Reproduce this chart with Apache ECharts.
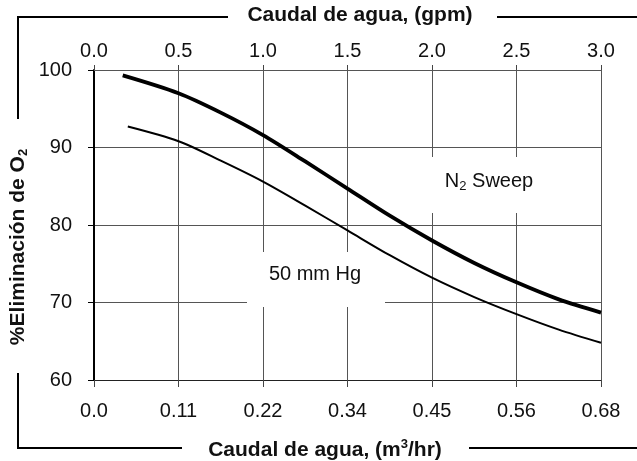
<!DOCTYPE html>
<html>
<head>
<meta charset="utf-8">
<script src="https://cdn.jsdelivr.net/npm/echarts@6/dist/echarts.min.js"></script>
<style>
html, body { margin: 0; padding: 0; background: #fff; }
#main { width: 637px; height: 461px; }
</style>
</head>
<body>
<div id="main"></div>
<script>
// tick labels of the two flow axes (same positions, different units)
var gpmTicks = ['0.0', '0.5', '1.0', '1.5', '2.0', '2.5', '3.0'];
var m3Ticks = ['0.0', '0.11', '0.22', '0.34', '0.45', '0.56', '0.68'];

// N2 sweep curve (flow in gpm, % O2 removal)
var sweepGpm = [0.17, 0.5, 0.75, 1.0, 1.25, 1.5, 1.75, 2.0, 2.25, 2.5, 2.75, 3.0];
var sweepO2 = [99.3, 97.0, 94.5, 91.6, 88.2, 84.7, 81.2, 78.0, 75.1, 72.6, 70.4, 68.7];

// 50 mm Hg vacuum curve
var vacGpm = [0.2, 0.5, 0.75, 1.0, 1.25, 1.5, 1.75, 2.0, 2.25, 2.5, 2.75, 3.0];
var vacO2 = [92.7, 90.8, 88.3, 85.6, 82.5, 79.3, 76.1, 73.2, 70.7, 68.5, 66.5, 64.8];

function zip(xs, ys) {
    var out = [];
    for (var i = 0; i < xs.length; i++) out.push([xs[i], ys[i]]);
    return out;
}

var font = '"Liberation Sans", Arial, sans-serif';
var chart = echarts.init(document.getElementById('main'));

var option = {
    animation: false,
    backgroundColor: '#fff',
    grid: { left: 94, right: 36, top: 70, bottom: 81 },
    xAxis: [
        {
            type: 'value', position: 'bottom', min: 0, max: 3, interval: 0.5,
            axisLine: { show: true, lineStyle: { color: '#222', width: 1.2 } },
            axisTick: { show: true, length: 7, lineStyle: { color: '#444' } },
            axisLabel: {
                margin: 21, fontSize: 20, color: '#111', fontFamily: font,
                formatter: function (v) { return m3Ticks[Math.round(v / 0.5)]; }
            },
            splitLine: { show: true, lineStyle: { color: '#555', width: 1 } }
        },
        {
            type: 'value', position: 'top', min: 0, max: 3, interval: 0.5,
            axisLine: { show: true, lineStyle: { color: '#555', width: 1 } },
            axisTick: { show: true, length: 5, lineStyle: { color: '#444' } },
            axisLabel: {
                margin: 9, fontSize: 20, color: '#111', fontFamily: font,
                formatter: function (v) { return gpmTicks[Math.round(v / 0.5)]; }
            },
            splitLine: { show: false }
        }
    ],
    yAxis: {
        type: 'value', min: 60, max: 100, interval: 10,
        axisLine: { show: true, lineStyle: { color: '#000', width: 2 } },
        axisTick: { show: true, length: 6, lineStyle: { color: '#000' } },
        axisLabel: { margin: 22, fontSize: 20, color: '#111', fontFamily: font },
        splitLine: { show: true, lineStyle: { color: '#555', width: 1 } }
    },
    series: [
        {
            name: 'N2 Sweep', type: 'line', xAxisIndex: 0, smooth: 0.3,
            showSymbol: false, z: 3,
            lineStyle: { color: '#000', width: 3.8 },
            data: zip(sweepGpm, sweepO2)
        },
        {
            name: '50 mm Hg', type: 'line', xAxisIndex: 0, smooth: 0.3,
            showSymbol: false, z: 3,
            lineStyle: { color: '#000', width: 2 },
            data: zip(vacGpm, vacO2)
        }
    ],
    graphic: [
        // white boxes behind the curve labels, they break the grid
        { type: 'rect', z: 1, shape: { x: 247, y: 252, width: 138, height: 55 }, style: { fill: '#fff' } },
        { type: 'rect', z: 1, shape: { x: 420, y: 157, width: 140, height: 56 }, style: { fill: '#fff' } },
        {
            type: 'text', z: 4, x: 315, y: 274,
            style: { text: '50 mm Hg', fill: '#111', fontSize: 20, fontFamily: font, align: 'center', verticalAlign: 'middle' }
        },
        {
            type: 'text', z: 4, x: 489, y: 181,
            style: {
                text: '{n|N}{s|2}{n| Sweep}', align: 'center', verticalAlign: 'middle',
                rich: {
                    n: { fontSize: 20, fontFamily: font, fill: '#111', lineHeight: 24 },
                    s: { fontSize: 13, fontFamily: font, fill: '#111', lineHeight: 14, verticalAlign: 'bottom' }
                }
            }
        },
        // axis titles
        {
            type: 'text', z: 4, x: 360, y: 15,
            style: { text: 'Caudal de agua, (gpm)', fill: '#111', fontSize: 21, fontWeight: 'bold', fontFamily: font, align: 'center', verticalAlign: 'middle' }
        },
        {
            type: 'text', z: 4, x: 325, y: 450,
            style: {
                text: '{b|Caudal de agua, (m}{p|3}{b|/hr)}', align: 'center', verticalAlign: 'middle',
                rich: {
                    b: { fontSize: 21, fontWeight: 'bold', fontFamily: font, fill: '#111', lineHeight: 24 },
                    p: { fontSize: 13, fontWeight: 'bold', fontFamily: font, fill: '#111', lineHeight: 14, verticalAlign: 'top' }
                }
            }
        },
        {
            type: 'text', z: 4, x: 18, y: 247, rotation: Math.PI / 2,
            style: {
                text: '{b|%Eliminación de O}{s|2}', align: 'center', verticalAlign: 'middle',
                rich: {
                    b: { fontSize: 21, fontWeight: 'bold', fontFamily: font, fill: '#111', lineHeight: 24 },
                    s: { fontSize: 13, fontWeight: 'bold', fontFamily: font, fill: '#111', lineHeight: 14, verticalAlign: 'bottom' }
                }
            }
        },
        // outer bracket frame
        { type: 'polyline', z: 4, shape: { points: [[228, 17], [18, 17], [18, 119]] }, style: { stroke: '#000', lineWidth: 2, fill: null } },
        { type: 'polyline', z: 4, shape: { points: [[497, 17], [637, 17]] }, style: { stroke: '#000', lineWidth: 2, fill: null } },
        { type: 'polyline', z: 4, shape: { points: [[18, 373], [18, 448], [182, 448]] }, style: { stroke: '#000', lineWidth: 2, fill: null } },
        { type: 'polyline', z: 4, shape: { points: [[469, 448], [637, 448]] }, style: { stroke: '#000', lineWidth: 2, fill: null } }
    ]
};

chart.setOption(option);
</script>
</body>
</html>
